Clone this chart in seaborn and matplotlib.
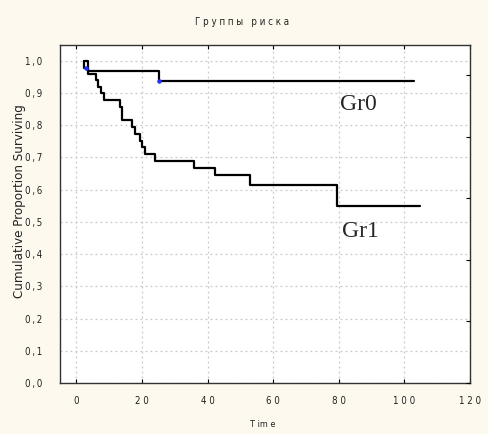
import matplotlib
matplotlib.use("Agg")
import matplotlib.pyplot as plt
import seaborn as sns
import pandas as pd

# ---- data ----
gr0_time = [2.2, 3.6, 25.2, 103.0]
gr0_surv = [1.0, 0.967, 0.936, 0.936]
gr1_time = [2.2, 2.2, 3.6, 6.0, 6.7, 7.5, 8.3, 13.4, 14.0, 17.1, 18.0, 19.5,
            20.1, 20.8, 24.1, 35.9, 42.3, 52.8, 79.4, 104.8]
gr1_surv = [1.0, 0.977, 0.959, 0.939, 0.919, 0.899, 0.879, 0.858, 0.815, 0.794,
            0.773, 0.752, 0.732, 0.710, 0.689, 0.667, 0.644, 0.616, 0.548, 0.548]
cens_time = [3.0, 25.2]
cens_surv = [0.977, 0.936]

x_ticks = [0, 20, 40, 60, 80, 100, 120]
y_ticks = [0.0, 0.1, 0.2, 0.3, 0.4, 0.5, 0.6, 0.7, 0.8, 0.9, 1.0]
right_ticks = [0.0, 0.191, 0.382, 0.573, 0.764, 0.955]

title = "Группы риска"
xlabel = "Time"
ylabel = "Cumulative Proportion Surviving"


def spaced(s, sep=" "):
    return sep.join(list(s))


df = pd.DataFrame({
    "time": gr0_time + gr1_time,
    "surv": gr0_surv + gr1_surv,
    "group": ["Gr0"] * len(gr0_time) + ["Gr1"] * len(gr1_time),
})
cens = pd.DataFrame({"time": cens_time, "surv": cens_surv})

sns.set_style("white")
fam = ["Liberation Sans Narrow", "DejaVu Sans"]
plt.rcParams["font.family"] = fam
plt.rcParams["font.stretch"] = "condensed"

bg = "#fdf9ef"
tc = "#222222"
fig = plt.figure(figsize=(4.89, 4.34), dpi=100, facecolor=bg)
ax = fig.add_axes([60 / 489, 1 - 383 / 434, 410 / 489, 338 / 434])
ax.set_facecolor("white")

sns.lineplot(data=df, x="time", y="surv", hue="group",
             palette=["black", "black"], drawstyle="steps-post",
             estimator=None, sort=False, legend=False, linewidth=1.6, ax=ax)
sns.scatterplot(data=cens, x="time", y="surv", color="#2030ff", s=7,
                edgecolor="#2030ff", linewidth=0.5, ax=ax, zorder=5)

ax.set_xlim(-5, 120)
ax.set_ylim(0, 1.049)
ax.set_xticks(x_ticks)
ax.set_yticks(y_ticks)
ax.set_xticklabels([spaced(str(v)) for v in x_ticks], fontsize=7, color=tc)
ax.set_yticklabels([spaced(f"{v:.1f}".replace(".", ","), "\u2009")
                    for v in y_ticks], fontsize=7, color=tc)
ax.tick_params(axis="x", direction="in", length=3, top=True, bottom=True,
               pad=9, color="black")
ax.tick_params(axis="y", direction="in", length=0, left=True, pad=13)
ax.grid(True, linestyle=(0, (1.5, 2.5)), color="#c8c8c8", linewidth=0.9)
for sp in ax.spines.values():
    sp.set_color("#333333")
    sp.set_linewidth(1.0)

ax.set_xlabel(spaced(xlabel).replace("i m", "im"), fontsize=6.5, color=tc)
ax.xaxis.set_label_coords((263 - 60) / 410, (383 - 420) / 338)
ax.set_ylabel(ylabel, fontsize=9.5, color=tc)
ax.yaxis.set_label_coords((26 - 60) / 410, (383 - 201) / 338)

ax2 = ax.twinx()
ax2.set_ylim(ax.get_ylim())
ax2.set_yticks(right_ticks)
ax2.set_yticklabels([])
ax2.tick_params(axis="y", direction="in", length=3, color="black")
ax2.grid(False)
for sp in ax2.spines.values():
    sp.set_visible(False)

ax.text(80.4, 0.846, "Gr0", fontsize=17, family="Liberation Serif",
        ha="left", va="baseline")
ax.text(81.0, 0.452, "Gr1", fontsize=17, family="Liberation Serif",
        ha="left", va="baseline")

fig.text(242.5 / 489, 1 - 22 / 434, spaced(title),
         ha="center", va="center", fontsize=7, color=tc)

fig.savefig("out.png", dpi=100, facecolor=bg)
